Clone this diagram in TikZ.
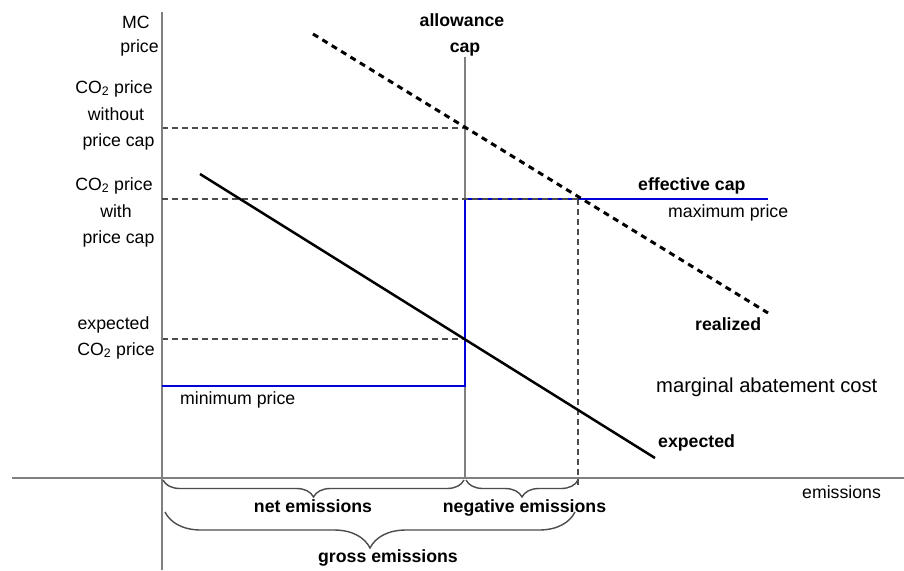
\documentclass[tikz,border=0pt]{standalone}
\usepackage{fontspec}
\setmainfont{Liberation Sans}
\usetikzlibrary{decorations.pathreplacing}
\begin{document}
\begin{tikzpicture}[x=1pt,y=-1pt,
  lbl/.style={anchor=base,inner sep=0pt,font=\fontsize{17.7}{21}\selectfont},
  lblb/.style={lbl,font=\fontsize{17.7}{21}\selectfont\bfseries},
  axisline/.style={draw=black!50,line width=2pt},
  guide/.style={draw=black!70,line width=1.2pt,dash pattern=on 6pt off 4pt},
  mac/.style={draw=black,line width=2.5pt},
  macreal/.style={draw=black,line width=3pt,dash pattern=on 6pt off 5pt},
  pricecap/.style={draw=blue!85!black,line width=2.5pt},
  bracestyle/.style={draw=black!70,line width=1.4pt,decorate}
]
\path[fill=white] (0,0) rectangle (904,570);
\useasboundingbox (0,0) rectangle (904,570);

% coordinates
\coordinate (ytop) at (161.5,12);
\coordinate (ybot) at (161.5,570);
\coordinate (xl) at (12,478);
\coordinate (xr) at (904,478);
\coordinate (captop) at (465,57);
\coordinate (capbot) at (465,478);
\coordinate (g1l) at (161.5,128);
\coordinate (g1r) at (465,128);
\coordinate (g2l) at (161.5,199);
\coordinate (g2r) at (578,199);
\coordinate (g3l) at (161.5,339);
\coordinate (g3r) at (465,339);
\coordinate (vt) at (578,199);
\coordinate (vb) at (578,486);
\coordinate (b0) at (161.5,386);
\coordinate (b1) at (465,386);
\coordinate (b2) at (465,199);
\coordinate (b3) at (768,199);
\coordinate (r0) at (313,34);
\coordinate (r1) at (768,313);
\coordinate (e0) at (200,174);
\coordinate (e1) at (655,458);

% guide lines
\draw[guide] (g1l) -- (g1r);
\draw[guide] (g3l) -- (g3r);
\draw[guide] (vt) -- (vb);

% axes
\draw[axisline] (ytop) -- (ybot);
\draw[axisline] (xl) -- (xr);
\draw[axisline] (captop) -- (capbot);

% price floor / ceiling
\draw[pricecap] (b0) -- (b1) -- (b2) -- (b3);
\draw[guide] (g2l) -- (g2r);

% MAC curves
\draw[macreal] (r0) -- (r1);
\draw[mac] (e0) -- (e1);

% braces
\coordinate (n0) at (163,480);
\coordinate (n1) at (464,480);
\coordinate (m0) at (466,480);
\coordinate (m1) at (578,480);
\coordinate (s0) at (165,512);
\coordinate (s1) at (575,512);
\draw[bracestyle,decoration={brace,mirror,amplitude=17pt}] (n0) -- (n1);
\draw[bracestyle,decoration={brace,mirror,amplitude=17pt}] (m0) -- (m1);
\draw[bracestyle,decoration={brace,mirror,amplitude=36pt}] (s0) -- (s1);

% left labels
\node[lbl] (mc) at (136,28) {MC};
\node[lbl] (pr) at (139.5,52) {price};
\node[lbl] (w1) at (114,93) {CO\textsubscript{2} price};
\node[lbl] (w2) at (116,120) {without};
\node[lbl] (w3) at (118.5,146) {price cap};
\node[lbl] (c1) at (114,190) {CO\textsubscript{2} price};
\node[lbl] (c2) at (116,217) {with};
\node[lbl] (c3) at (118.5,243) {price cap};
\node[lbl] (x1) at (113.5,329) {expected};
\node[lbl] (x2) at (116,355) {CO\textsubscript{2} price};
\node[lbl,anchor=base west] (minp) at (180,404) {minimum price};

% top labels
\node[lblb] (al1) at (462,26) {allowance};
\node[lblb] (al2) at (465,52) {cap};

% right labels
\node[lblb,anchor=base west] (eff) at (638,190) {effective cap};
\node[lbl,anchor=base west] (maxp) at (668,217) {maximum price};
\node[lblb,anchor=base west] (real) at (695,330) {realized};
\node[lbl,anchor=base west,font=\fontsize{20.2}{24}\selectfont] (mabc) at (656,392) {marginal abatement cost};
\node[lblb,anchor=base west] (expd) at (658,447) {expected};
\node[lbl,anchor=base west] (emis) at (802,498) {emissions};

% bottom labels
\node[lblb] (net) at (313,512) {net emissions};
\node[lblb] (neg) at (524.5,512) {negative emissions};
\node[lblb] (gross) at (388,562) {gross emissions};
\end{tikzpicture}
\end{document}
